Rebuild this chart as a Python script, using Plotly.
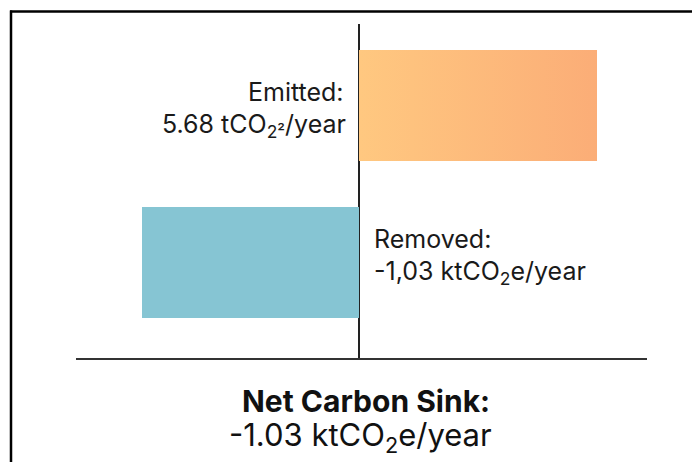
import plotly.graph_objects as go

# ---- data ----
categories = ["Removed", "Emitted"]
emitted_value = 5.68        # tCO2/year
removed_value = -1.03       # ktCO2e/year
net_value = -1.03           # ktCO2e/year
emitted_label = ["Emitted:", "5.68 tCO<sub>2²</sub>/year"]
removed_label = ["Removed:", "-1,03 ktCO<sub>2</sub>e/year"]
net_label = ["<b>Net Carbon Sink:</b>", "-1.03 ktCO<sub>2</sub>e/year"]

# ---- layout geometry (pixels in the 700x462 window; page has 8px body margin) ----
OFF = 8
W, H = 700 - OFF, 462 - OFF
L, R, T, B = 76 - OFF, 647 - OFF, 24 - OFF, 358 - OFF
pw, ph = R - L, B - T
zero_px = 359 - OFF
emit_end_px = 597 - OFF
rem_end_px = 142 - OFF
bar_w = 0.707

def fx(px):
    return (px - OFF - L) / pw

def fy(py):
    return (B - (py - OFF)) / ph

# axis ranges so that zero sits at zero_px and bars end where drawn
f0 = (zero_px - L) / pw
u1 = emitted_value / ((emit_end_px - L) / pw - f0)
range1 = [-f0 * u1, (1 - f0) * u1]
u2 = abs(removed_value) / (f0 - (rem_end_px - L) / pw)
range2 = [-f0 * u2, (1 - f0) * u2]

ycat = {"Removed": 0, "Emitted": 1}
yrange = [-0.608, 1.519]

fig = go.Figure()

ye = ycat["Emitted"]
fig.add_trace(go.Scatter(
    x=[0, emitted_value, emitted_value, 0, 0],
    y=[ye - bar_w / 2, ye - bar_w / 2, ye + bar_w / 2, ye + bar_w / 2, ye - bar_w / 2],
    fill="toself", mode="none",
    fillgradient=dict(type="horizontal",
                      colorscale=[[0, "#FFC880"], [1, "#FBAD77"]]),
    hoverinfo="skip", showlegend=False, xaxis="x", yaxis="y",
))

fig.add_trace(go.Bar(
    x=[removed_value], y=[ycat["Removed"]], orientation="h",
    width=bar_w, marker=dict(color="#86C5D3", line=dict(width=0)),
    xaxis="x2", yaxis="y", showlegend=False, hoverinfo="skip",
))

font_family = "Inter, 'Liberation Sans', Arial, sans-serif"
annos = []
def add_text(text, xp, yp, anchor, size, color="#1a1a1a"):
    annos.append(dict(text=text, x=fx(xp), y=fy(yp), xref="paper", yref="paper",
                      xanchor=anchor, yanchor="middle", showarrow=False,
                      font=dict(family=font_family, size=size, color=color)))

add_text(emitted_label[0], 346, 92, "right", 25)
add_text(emitted_label[1], 348, 126, "right", 25)
add_text(removed_label[0], 372, 239, "left", 25)
add_text(removed_label[1], 372, 272, "left", 25)
add_text(net_label[0], 366, 401, "center", 30, "#111111")
add_text(net_label[1], 360, 437, "center", 31, "#111111")

shapes = [
    dict(type="line", xref="paper", yref="paper",
         x0=fx(10), x1=fx(705), y0=fy(11.5), y1=fy(11.5),
         line=dict(color="#000000", width=2.5)),
    dict(type="line", xref="paper", yref="paper",
         x0=fx(11), x1=fx(11), y0=fy(10.5), y1=fy(470),
         line=dict(color="#000000", width=2.5)),
]

fig.update_layout(
    width=W, height=H,
    margin=dict(l=L, r=W - R, t=T, b=H - B),
    paper_bgcolor="white", plot_bgcolor="white",
    xaxis=dict(range=range1, showgrid=False, showticklabels=False, ticks="",
               zeroline=True, zerolinecolor="#222222", zerolinewidth=1.5,
               showline=True, linecolor="#333333", linewidth=2, mirror=False,
               fixedrange=True),
    xaxis2=dict(range=range2, overlaying="x", showgrid=False, showticklabels=False,
                ticks="", zeroline=False, showline=False, visible=False),
    yaxis=dict(range=yrange, showgrid=False, showticklabels=False, ticks="",
               zeroline=False, showline=False),
    annotations=annos, shapes=shapes, showlegend=False,
)

fig.write_html("out.html")
